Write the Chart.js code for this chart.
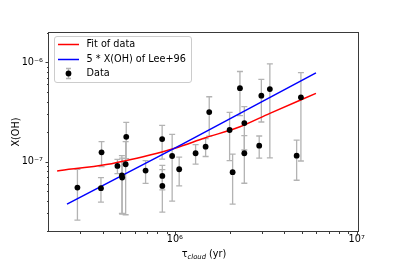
<!DOCTYPE html>
<html>
<head>
<meta charset="utf-8">
<title>X(OH) against cloud age</title>
<script src="https://cdn.jsdelivr.net/npm/chart.js@4.4.1/dist/chart.umd.min.js"></script>
<style>
  html, body { margin: 0; padding: 0; background: #fff; }
  #wrap { width: 399px; height: 266px; }
</style>
</head>
<body>
<div id="wrap"><canvas id="ohChart" width="399" height="266"></canvas></div>
<script>
// ==========================================
//  X(OH) vs tau_cloud  (log-log, error bars)
// ==========================================

// === DATA ===
const tauCloud = [2.91e5, 3.95e5, 3.92e5, 4.83e5, 5.11e5, 5.13e5, 5.40e5, 5.36e5, 6.90e5,
                  8.51e5, 8.53e5, 8.53e5, 9.66e5, 1.056e6, 1.30e6, 1.476e6, 1.545e6, 2.00e6,
                  2.078e6, 2.28e6, 2.41e6, 2.41e6, 2.91e6, 2.99e6, 3.33e6, 4.675e6, 4.935e6];
const xOH      = [5.47e-8, 1.24e-7, 5.40e-8, 9.05e-8, 7.26e-8, 6.90e-8, 1.78e-7, 9.41e-8, 8.12e-8,
                  1.69e-7, 7.18e-8, 5.69e-8, 1.14e-7, 8.38e-8, 1.215e-7, 1.416e-7, 3.16e-7, 2.085e-7,
                  7.82e-8, 5.51e-7, 2.45e-7, 1.215e-7, 1.449e-7, 4.63e-7, 5.39e-7, 1.149e-7, 4.455e-7];
const xOHErr   = [2.9e-8, 3.5e-8, 1.5e-8, 1.5e-8, 4.25e-8, 3.95e-8, 7.1e-8, 6.5e-8, 2.1e-8,
                  6.3e-8, 2.0e-8, 2.6e-8, 7.4e-8, 2.7e-8, 2.7e-8, 2.9e-8, 1.35e-7, 1.06e-7,
                  4.1e-8, 2.6e-7, 1.14e-7, 6.1e-8, 3.65e-8, 2.12e-7, 4.3e-7, 5.0e-8, 3.44e-7];

const fitTau = [2.25e5, 4.28e5, 7.29e5, 1.0e6, 1.46e6, 2.28e6, 3.33e6, 5.97e6];
const fitXOH = [8.06e-8, 9.4e-8, 1.168e-7, 1.365e-7, 1.73e-7, 2.25e-7, 3.07e-7, 4.88e-7];

const leeTau = [2.55e5, 1.1e6, 5.97e6];
const leeXOH = [3.73e-8, 1.5e-7, 7.86e-7];

const xTickVals = [3e5, 4e5, 5e5, 6e5, 7e5, 8e5, 9e5, 1e6, 2e6, 3e6, 4e6, 5e6, 6e6, 7e6, 8e6, 9e6, 1e7];
const yTickVals = [2e-8, 3e-8, 4e-8, 5e-8, 6e-8, 7e-8, 8e-8, 9e-8, 1e-7,
                   2e-7, 3e-7, 4e-7, 5e-7, 6e-7, 7e-7, 8e-7, 9e-7, 1e-6, 2e-6];
const xTickLabels = { '1000000': '10\u2076', '10000000': '10\u2077' };
const yTickLabels = { '-7': '10\u207B\u2077', '-6': '10\u207B\u2076' };

(function () {
  'use strict';

  var FONT_FAMILY = 'DejaVu Sans';
  var FS          = 9.7;
  var ERR_COLOR   = '#b3b3b3';
  var FRAME_COLOR = '#3a3a3a';

  function zip(xs, ys) {
    return xs.map(function (x, i) { return { x: x, y: ys[i] }; });
  }

  function isDecade(v) {
    var l = Math.log10(v);
    return Math.abs(l - Math.round(l)) < 1e-9;
  }

  // === PLUGIN: error bars under the points ===
  var errorBars = {
    id: 'errorBars',
    beforeDatasetsDraw: function (chart) {
      var c = chart.ctx, xs = chart.scales.x, ys = chart.scales.y, a = chart.chartArea;
      c.save();
      c.beginPath();
      c.rect(a.left, a.top, a.right - a.left, a.bottom - a.top);
      c.clip();
      c.strokeStyle = ERR_COLOR;
      c.lineWidth = 1.3;
      tauCloud.forEach(function (t, i) {
        var px  = xs.getPixelForValue(t);
        var top = ys.getPixelForValue(xOH[i] + xOHErr[i]);
        var low = xOH[i] - xOHErr[i];
        var bot = low > 0 ? ys.getPixelForValue(low) : a.bottom + 5;
        c.beginPath();
        c.moveTo(px, top); c.lineTo(px, bot);
        c.moveTo(px - 3, top); c.lineTo(px + 3, top);
        c.moveTo(px - 3, bot); c.lineTo(px + 3, bot);
        c.stroke();
      });
      c.restore();
    },
  };

  // === PLUGIN: frame, log tick marks, axis titles, legend ===
  var decorations = {
    id: 'decorations',
    afterDraw: function (chart) {
      var c = chart.ctx, a = chart.chartArea, xs = chart.scales.x, ys = chart.scales.y;
      c.save();

      // frame
      c.strokeStyle = FRAME_COLOR;
      c.lineWidth = 1;
      c.strokeRect(Math.round(a.left) - 0.5, Math.round(a.top) + 0.5,
                   Math.round(a.right - a.left), Math.round(a.bottom - a.top) - 1);

      // tick marks (major longer than minor)
      c.beginPath();
      xs.ticks.forEach(function (t) {
        var px = Math.round(xs.getPixelForValue(t.value)) + 0.5;
        var len = isDecade(t.value) ? 3.5 : 2;
        c.moveTo(px, a.bottom); c.lineTo(px, a.bottom + len);
      });
      ys.ticks.forEach(function (t) {
        var py = Math.round(ys.getPixelForValue(t.value)) + 0.5;
        var len = isDecade(t.value) ? 3.5 : 2;
        c.moveTo(a.left, py); c.lineTo(a.left - len, py);
      });
      c.stroke();

      // y title
      c.fillStyle = '#000';
      c.font = FS + 'px "' + FONT_FAMILY + '"';
      c.textAlign = 'center';
      c.textBaseline = 'middle';
      c.save();
      c.translate(16, (a.top + a.bottom) / 2);
      c.rotate(-Math.PI / 2);
      c.fillText('X(OH)', 0, 0);
      c.restore();

      // x title: tau with italic subscript
      c.textAlign = 'left';
      c.textBaseline = 'alphabetic';
      var mainFont = FS + 'px "' + FONT_FAMILY + '"';
      var subFont  = 'italic 6.8px "' + FONT_FAMILY + '"';
      c.font = mainFont;
      var w1 = c.measureText('\u03C4').width;
      var w3 = c.measureText(' (yr)').width;
      c.font = subFont;
      var w2 = c.measureText('cloud').width;
      var x0 = (a.left + a.right) / 2 - (w1 + w2 + w3) / 2;
      c.font = mainFont;
      c.fillText('\u03C4', x0, 256.5);
      c.font = subFont;
      c.fillText('cloud', x0 + w1, 258.5);
      c.font = mainFont;
      c.fillText(' (yr)', x0 + w1 + w2, 256.5);

      // legend box
      var lx = 54.5, ly = 36.5, lw = 137, lh = 46;
      c.beginPath();
      c.roundRect(lx, ly, lw, lh, 2.5);
      c.fillStyle = 'rgba(255,255,255,0.85)';
      c.fill();
      c.strokeStyle = '#cccccc';
      c.lineWidth = 1;
      c.stroke();

      var rows = [
        { y: 44.5, kind: 'line', color: '#ff0000', text: 'Fit of data' },
        { y: 59.5, kind: 'line', color: '#0000ff', text: '5 * X(OH) of Lee+96' },
        { y: 73.5, kind: 'err',  color: '#000000', text: 'Data' },
      ];
      rows.forEach(function (r) {
        if (r.kind === 'line') {
          c.strokeStyle = r.color;
          c.lineWidth = 1.5;
          c.beginPath();
          c.moveTo(58, r.y); c.lineTo(79, r.y);
          c.stroke();
        } else {
          c.strokeStyle = ERR_COLOR;
          c.lineWidth = 1.3;
          c.beginPath();
          c.moveTo(68.5, r.y - 5); c.lineTo(68.5, r.y + 5);
          c.moveTo(66, r.y - 5); c.lineTo(71, r.y - 5);
          c.moveTo(66, r.y + 5); c.lineTo(71, r.y + 5);
          c.stroke();
          c.fillStyle = '#000';
          c.beginPath();
          c.arc(68.5, r.y, 2.9, 0, Math.PI * 2);
          c.fill();
        }
        c.fillStyle = '#000';
        c.font = mainFont;
        c.textBaseline = 'middle';
        c.fillText(r.text, 86.5, r.y);
      });

      c.restore();
    },
  };

  // === CHART ===
  var ctx = document.getElementById('ohChart').getContext('2d');

  new Chart(ctx, {
    type: 'scatter',
    data: {
      datasets: [
        {
          label:           'Data',
          data:            zip(tauCloud, xOH),
          pointRadius:     2.9,
          pointHoverRadius: 2.9,
          backgroundColor: '#000',
          borderWidth:     0,
          order:           0,
        },
        {
          label:       'Fit of data',
          type:        'line',
          data:        zip(fitTau, fitXOH),
          borderColor: '#ff0000',
          borderWidth: 1.5,
          pointRadius: 0,
          cubicInterpolationMode: 'monotone',
          fill:        false,
          order:       2,
        },
        {
          label:       '5 * X(OH) of Lee+96',
          type:        'line',
          data:        zip(leeTau, leeXOH),
          borderColor: '#0000ff',
          borderWidth: 1.5,
          pointRadius: 0,
          fill:        false,
          order:       1,
        },
      ],
    },
    options: {
      responsive:       false,
      animation:        false,
      devicePixelRatio: 1,
      layout: { padding: { left: 0, right: 40, top: 32, bottom: 0 } },
      plugins: {
        legend:  { display: false },
        tooltip: { enabled: false },
      },
      scales: {
        x: {
          type: 'logarithmic',
          min:  2.03e5,
          max:  1.03e7,
          grid:   { display: false, drawTicks: false },
          border: { display: false },
          afterBuildTicks: function (s) { s.ticks = xTickVals.map(function (v) { return { value: v }; }); },
          afterFit: function (s) { s.height = 34; },
          ticks: {
            autoSkip:    false,
            maxRotation: 0,
            padding:     2,
            color:       '#000',
            font:        { family: FONT_FAMILY, size: FS },
            callback: function (v) { return xTickLabels[String(Math.round(v))] || ''; },
          },
        },
        y: {
          type: 'logarithmic',
          min:  1.95e-8,
          max:  2.03e-6,
          grid:   { display: false, drawTicks: false },
          border: { display: false },
          afterBuildTicks: function (s) { s.ticks = yTickVals.map(function (v) { return { value: v }; }); },
          afterFit: function (s) { s.width = 49; },
          ticks: {
            autoSkip: false,
            padding:  6,
            color:    '#000',
            font:     { family: FONT_FAMILY, size: FS },
            callback: function (v) {
              return isDecade(v) ? (yTickLabels[String(Math.round(Math.log10(v)))] || '') : '';
            },
          },
        },
      },
    },
    plugins: [errorBars, decorations],
  });

}());
</script>
</body>
</html>
